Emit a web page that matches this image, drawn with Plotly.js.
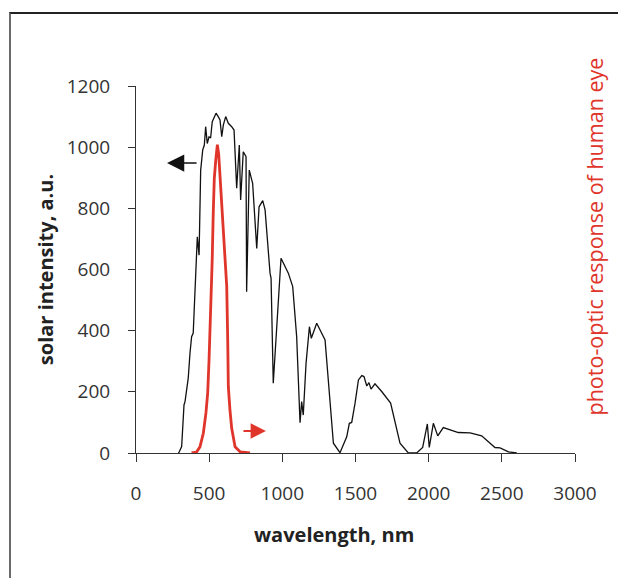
<!DOCTYPE html>
<html>
<head>
<meta charset="utf-8">
<script src="https://cdn.plot.ly/plotly-3.0.1.min.js"></script>
<style>
  html, body { margin: 0; padding: 0; background: #fff; overflow: hidden; }
  #chart { width: 618px; height: 578px; }
  #frame { position: absolute; left: 9px; top: 12px; width: 800px; height: 800px;
           border-top: 2px solid #222; border-left: 2px solid #6a6a6a; pointer-events: none; }
</style>
</head>
<body>
<div id="chart"></div>
<div id="frame"></div>
<script>
// Solar spectrum (wavelength in nm, intensity in a.u.)
const solarWavelength = [290,296,312,319,328,335,357,369,380,391,403,410,419,431,442,456,467,476,487,499,510,521,533,547,562,574,586,597,613,631,654,670,688,706,715,733,752,756,774,797,825,841,866,882,916,923,938,991,1041,1071,1098,1121,1132,1143,1162,1185,1198,1235,1292,1315,1349,1394,1440,1458,1474,1497,1520,1543,1558,1577,1592,1606,1633,1679,1740,1804,1861,1918,1959,1991,2004,2032,2062,2100,2203,2283,2362,2453,2488,2545,2602];
const solarIntensity = [0,4,21,70,157,168,245,327,380,392,544,654,707,647,925,991,1007,1067,1012,1034,1030,1083,1094,1111,1100,1089,1034,1073,1100,1078,1067,1056,866,1007,827,985,969,527,925,882,669,805,825,795,588,571,228,637,588,544,380,99,168,124,293,413,375,424,370,239,32,1,53,97,100,163,239,253,250,219,230,209,226,201,163,32,0,0,18,95,18,97,56,83,67,66,56,18,17,4,0];

// Photopic response of the human eye (relative, 0..1)
const eyeWavelength = [380,414,437,460,478,490,499,506,513,521,528,535,545,556,565,574,586,597,608,620,627,631,642,654,677,711,779];
const eyeResponse = [0,0.003,0.02,0.064,0.13,0.195,0.30,0.39,0.50,0.63,0.78,0.89,0.95,1.0,0.97,0.90,0.82,0.71,0.63,0.54,0.36,0.215,0.14,0.08,0.02,0.004,0];

// Axis ticks
const xTickValues = [0,500,1000,1500,2000,2500,3000];
const xTickLabels = ['0','500','1000','1500','2000','2500','3000'];
const yTickValues = [0,200,400,600,800,1000,1200];
const yTickLabels = ['0','200','400','600','800','1000','1200'];

// Axis-indicator arrows: [tail x, tail y, tip x, tip y] in data units
const solarArrow = [424, 948, 212, 948];
const eyeArrow = [724, 72, 888, 72];

const FONT = '"Open Sans", "Noto Sans", sans-serif';
const RED = '#e0352b';

const traces = [
  {
    x: solarWavelength, y: solarIntensity, type: 'scatter', mode: 'lines',
    line: { color: '#111', width: 1.3 }, yaxis: 'y', name: 'solar'
  },
  {
    x: eyeWavelength, y: eyeResponse, type: 'scatter', mode: 'lines',
    line: { color: RED, width: 2.8 }, yaxis: 'y2', name: 'eye'
  }
];

const layout = {
  width: 618, height: 578,
  margin: { l: 136, r: 43, t: 86, b: 125 },
  paper_bgcolor: '#fff', plot_bgcolor: '#fff',
  showlegend: false,
  font: { family: FONT, color: '#333' },
  xaxis: {
    range: [0, 3000], tickvals: xTickValues, ticktext: xTickLabels,
    ticks: 'outside', ticklen: 8, tickwidth: 1, tickcolor: '#333',
    showline: true, linecolor: '#333', linewidth: 1,
    showgrid: false, zeroline: false,
    tickfont: { family: FONT, size: 19, color: '#333' },
    ticklabelstandoff: 15
  },
  yaxis: {
    range: [0, 1200], tickvals: yTickValues, ticktext: yTickLabels,
    ticks: 'outside', ticklen: 7, tickwidth: 1, tickcolor: '#333',
    showline: true, linecolor: '#333', linewidth: 1,
    showgrid: false, zeroline: false,
    tickfont: { family: FONT, size: 19, color: '#333' },
    ticklabelstandoff: 14,
    title: { text: 'solar intensity, a.u.', font: { family: FONT, size: 20, color: '#222', weight: 'bold' }, standoff: 7 }
  },
  yaxis2: {
    overlaying: 'y', side: 'right', range: [0, 1.19],
    showticklabels: false, ticks: '', showline: false, showgrid: false, zeroline: false
  },
  annotations: [
    {
      text: 'wavelength, nm', xref: 'paper', yref: 'paper', x: 0.451, y: -0.2234,
      xanchor: 'center', yanchor: 'middle', showarrow: false,
      font: { family: FONT, size: 20, color: '#222', weight: 'bold' }
    },
    {
      text: 'photo-optic response of human eye', xref: 'paper', yref: 'paper',
      x: 1.0433, y: 0.590, xanchor: 'center', yanchor: 'middle', textangle: -90, showarrow: false,
      font: { family: FONT, size: 21.5, color: RED }
    },
    {
      text: '', xref: 'x', yref: 'y', axref: 'x', ayref: 'y',
      x: solarArrow[2], y: solarArrow[3], ax: solarArrow[0], ay: solarArrow[1],
      showarrow: true, arrowhead: 2, arrowsize: 2.3, arrowwidth: 1.5, arrowcolor: '#111', standoff: 0
    },
    {
      text: '', xref: 'x', yref: 'y', axref: 'x', ayref: 'y',
      x: eyeArrow[2], y: eyeArrow[3], ax: eyeArrow[0], ay: eyeArrow[1],
      showarrow: true, arrowhead: 2, arrowsize: 1.7, arrowwidth: 1.8, arrowcolor: RED, standoff: 0
    }
  ]
};

Plotly.newPlot('chart', traces, layout, { displayModeBar: false, staticPlot: true });
</script>
</body>
</html>
